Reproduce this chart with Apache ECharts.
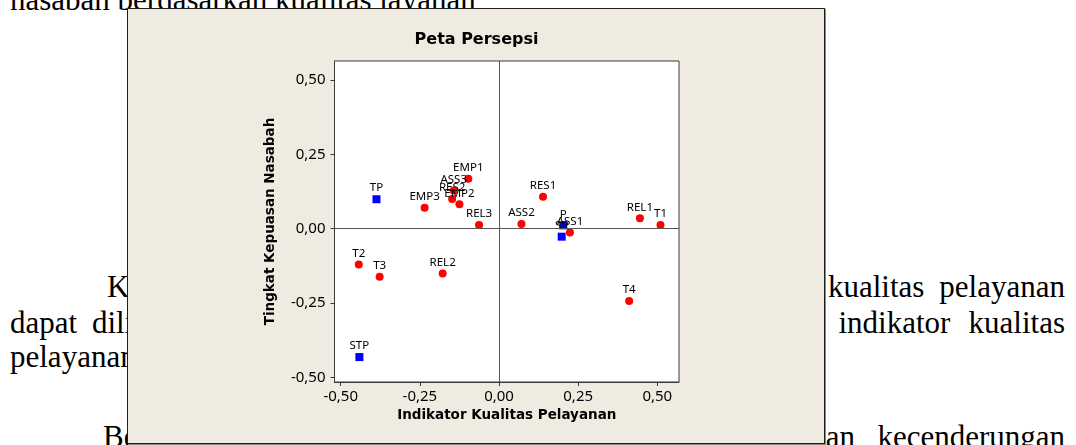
<!DOCTYPE html>
<html>
<head>
<meta charset="utf-8">
<script src="https://cdn.jsdelivr.net/npm/echarts@6/dist/echarts.min.js"></script>
<style>
html,body{margin:0;padding:0;background:#fff;width:1076px;height:445px;overflow:hidden;position:relative;}
.t{position:absolute;font-family:"Liberation Serif","Times New Roman",serif;font-size:31px;color:#000;white-space:nowrap;line-height:1;}
.j{text-align:justify;text-align-last:justify;white-space:normal;}
#box{position:absolute;left:127px;top:8px;width:696px;height:434px;background:#EFEBE1;border:1px solid #1e1e1e;box-shadow:1px 1px 0 #8a8a8a;}
#chart{position:absolute;left:0;top:0;width:1076px;height:445px;}
</style>
</head>
<body>
<div class="t" style="left:10px;top:-16px;">nasabah berdasarkan kualitas layanan</div>
<div class="t" style="left:107px;top:271px;">Kecenderungan nasabah terhadap indikator</div>
<div class="t" style="left:828px;top:271px;">kualitas</div>
<div class="t" style="right:11px;top:271px;">pelayanan</div>
<div class="t" style="left:10px;top:307px;">dapat</div>
<div class="t" style="left:92px;top:307px;">dilihat pada gambar di atas, dimana</div>
<div class="t" style="left:838.5px;top:307px;">indikator</div>
<div class="t" style="right:11px;top:307px;">kualitas</div>
<div class="t" style="left:10px;top:341px;">pelayanan yang dinilai nasabah.</div>
<div class="t j" style="left:103px;top:421px;width:752px;">Berdasarkan hasil tersebut, dapat disimpulkan</div>
<div class="t" style="right:11px;top:421px;">kecenderungan</div>
<div id="box"></div>
<div id="chart"></div>
<script>
// ---- data ----
const indicatorNames = ['EMP1','ASS3','RES2','EMP2','EMP3','REL3','ASS2','RES1','ASS1','REL1','T1','T2','T3','REL2','T4'];
const indicatorX = [-0.097,-0.143,-0.148,-0.125,-0.235,-0.063,0.071,0.139,0.224,0.445,0.510,-0.443,-0.377,-0.178,0.411];
const indicatorY = [0.168,0.128,0.100,0.082,0.070,0.012,0.016,0.107,-0.013,0.035,0.012,-0.121,-0.162,-0.151,-0.243];

const groupNames = ['TP','P','SP','STP'];
const groupX = [-0.387,0.203,0.198,-0.441];
const groupY = [0.099,0.011,-0.027,-0.432];

const xTicks = [-0.5,-0.25,0,0.25,0.5];
const xTickLabels = ['-0,50','-0,25','0,00','0,25','0,50'];
const yTicks = [-0.5,-0.25,0,0.25,0.5];
const yTickLabels = ['-0,50','-0,25','0,00','0,25','0,50'];

const chartTitle = 'Peta Persepsi';
const xTitle = 'Indikator Kualitas Pelayanan';
const yTitle = 'Tingkat Kepuasan Nasabah';

function labelFor(ticks, labels){
  return function(v){
    let best = 0, d = Infinity;
    ticks.forEach((t,i)=>{ const e = Math.abs(t - v); if (e < d){ d = e; best = i; } });
    return labels[best];
  };
}

const indicatorData = indicatorNames.map((n,i)=>({name:n, value:[indicatorX[i], indicatorY[i]]}));
const groupData = groupNames.map((n,i)=>({name:n, value:[groupX[i], groupY[i]]}));

const axisColor = '#3a3a3a';
const labelStyle = {show:true, position:'top', distance:1, formatter:'{b}', fontFamily:'Noto Sans', fontSize:11.5, color:'#000'};

const chart = echarts.init(document.getElementById('chart'), null, {renderer:'canvas'});
chart.setOption({
  animation:false,
  backgroundColor:'transparent',
  graphic:[{
    type:'text', x:476.5, y:39.5, silent:true,
    style:{text:chartTitle, fontFamily:'DejaVu Sans', fontWeight:'bold', fontSize:16, fill:'#000', align:'center', verticalAlign:'middle'}
  }],
  grid:{left:334.5, top:61, right:397, bottom:63, show:true, backgroundColor:'#fff', borderColor:axisColor, borderWidth:1, containLabel:false},
  xAxis:{
    type:'value', min:-0.5196, max:0.5685,
    splitLine:{show:false},
    axisLine:{show:true, onZero:false, lineStyle:{color:axisColor, width:1}},
    axisTick:{show:true, length:4, customValues:xTicks, lineStyle:{color:axisColor}},
    axisLabel:{customValues:xTicks, formatter:labelFor(xTicks,xTickLabels), margin:7, fontFamily:'Noto Sans', fontSize:15, color:'#000'},
    name:xTitle, nameLocation:'middle', nameGap:25,
    nameTextStyle:{fontFamily:'DejaVu Sans', fontWeight:'bold', fontSize:13.5, color:'#000'}
  },
  yAxis:{
    type:'value', min:-0.5158, max:0.5639,
    splitLine:{show:false},
    axisLine:{show:true, onZero:false, lineStyle:{color:axisColor, width:1}},
    axisTick:{show:true, length:4, customValues:yTicks, lineStyle:{color:axisColor}},
    axisLabel:{customValues:yTicks, formatter:labelFor(yTicks,yTickLabels), margin:9, fontFamily:'Noto Sans', fontSize:15, color:'#000'},
    name:yTitle, nameLocation:'middle', nameRotate:90, nameGap:57,
    nameTextStyle:{fontFamily:'DejaVu Sans', fontWeight:'bold', fontSize:13.5, color:'#000'}
  },
  series:[
    {
      type:'scatter', name:'Indikator', symbol:'circle', symbolSize:8,
      itemStyle:{color:'#FF0000', opacity:1},
      label:labelStyle,
      data:indicatorData,
      markLine:{
        silent:true, symbol:['none','none'], label:{show:false},
        lineStyle:{color:'#555', width:1, type:'solid'},
        emphasis:{disabled:true},
        data:[{xAxis:0},{yAxis:0}]
      }
    },
    {
      type:'scatter', name:'Kepuasan', symbol:'rect', symbolSize:8,
      itemStyle:{color:'#0000FF', opacity:1},
      label:labelStyle,
      data:groupData
    }
  ]
});
</script>
</body>
</html>
